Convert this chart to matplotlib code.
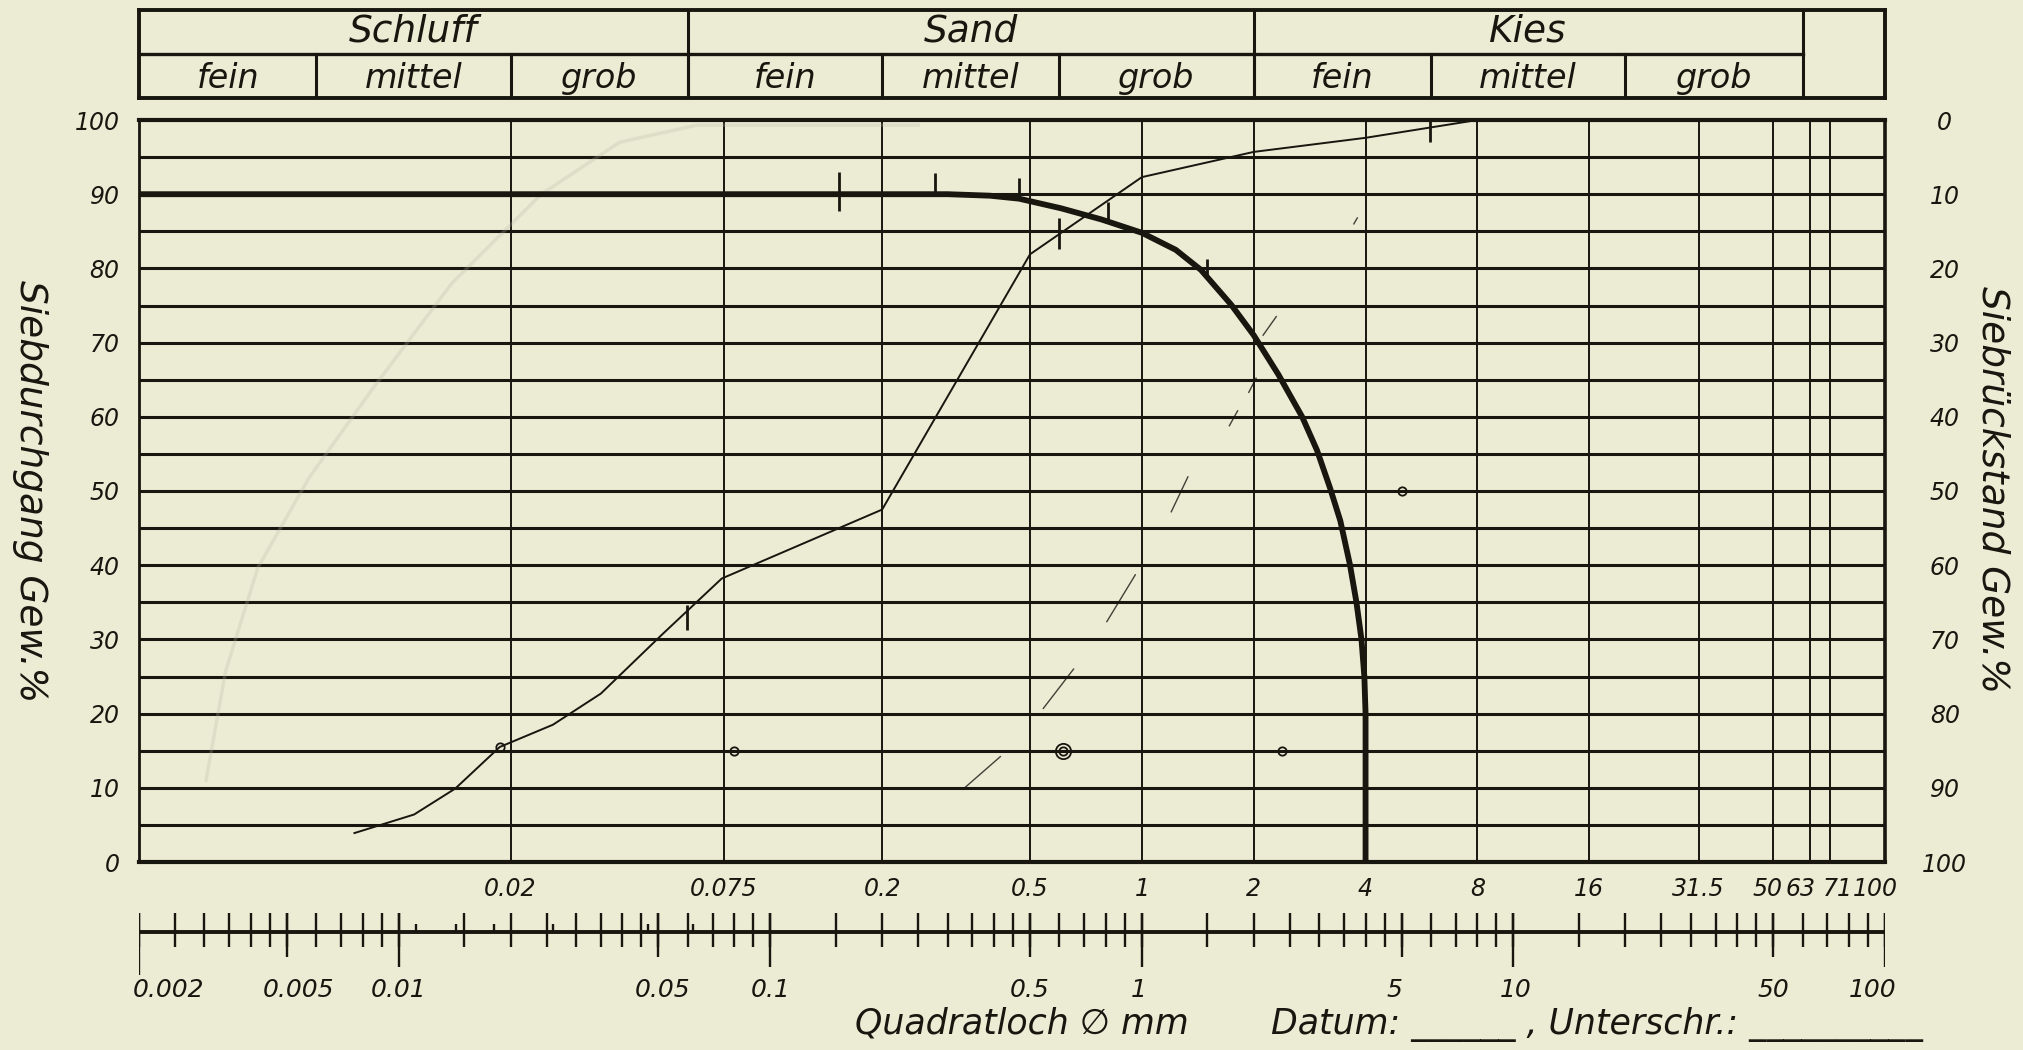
import matplotlib.pyplot as plt
from matplotlib.ticker import NullLocator

INK = '#17160f'
PAPER = '#ecebd4'
plt.rcParams['font.family'] = ['DejaVu Sans']
plt.rcParams['font.style'] = 'italic'

# grain size curve (Siebdurchgang in % over Korngroesse in mm)
grain_mm = [0.0076, 0.011, 0.0142, 0.0187, 0.026, 0.035, 0.051, 0.074, 0.2, 0.5, 1.0, 2.0, 4.0, 8.0]
passing = [3.9, 6.4, 9.9, 15.5, 18.5, 22.7, 30.6, 38.2, 47.5, 81.9, 92.3, 95.7, 97.6, 100]

# heavy curve
heavy_mm = [0.002, 0.3, 0.39, 0.467, 0.606, 0.778, 1.0, 1.234, 1.442, 1.74, 2.0, 2.33,
            2.70, 2.96, 3.21, 3.42, 3.63, 3.78, 3.9, 3.97, 4.0, 4.0]
heavy_pct = [90, 90, 89.8, 89.4, 88.1, 86.6, 84.8, 82.5, 79.8, 75.1, 71.0, 65.7,
             60.0, 55.5, 50.4, 46.0, 40.1, 35.0, 30.0, 25.0, 20.0, 0]

# faint show-through curve from the back of the sheet
ghost_mm = [0.00303, 0.00342, 0.00418, 0.00574, 0.00857, 0.0139, 0.0242, 0.0393, 0.0633, 0.25]
ghost_pct = [11, 25.7, 39.7, 51.8, 64, 78, 90, 97, 99.3, 99.3]

# short pencil strokes (dashed line)
dash_x0 = [0.33, 0.543, 0.805, 1.2, 1.72, 1.94, 2.12, 3.72]
dash_y0 = [9.8, 20.7, 32.4, 47.2, 58.8, 63.3, 71.0, 86.0]
dash_x1 = [0.416, 0.655, 0.96, 1.33, 1.81, 2.03, 2.30, 3.80]
dash_y1 = [14.2, 26.0, 38.7, 51.9, 60.8, 65.2, 73.5, 86.8]

# hand marks across curves
mark_x = [0.153, 0.277, 0.467, 0.60, 0.81, 1.50, 0.0598, 5.97]
mark_y0 = [87.7, 90.2, 89.6, 82.6, 86.6, 78.9, 31.3, 97.0]
mark_y1 = [93.0, 92.8, 92.2, 86.8, 88.9, 81.2, 34.6, 100.4]

circle_x = [0.0187, 0.0798, 0.614, 2.39, 5.02]
circle_y = [15.5, 15, 15, 15, 50]

# sieve grid lines and their labels
sieve_mm = [0.02, 0.075, 0.2, 0.5, 1, 2, 4, 8, 16, 31.5, 50, 63, 71, 100]
sieve_labels = ['0.02', '0.075', '0.2', '0.5', '1', '2', '4', '8', '16', '31.5', '50', '63', '71', '100']
sieve_label_dx = [0, 0, 0, 0, 0, 0, 0, 0, 0, 0, -6, -10, 8, -10]

pct_lines = [5, 10, 15, 20, 25, 30, 35, 40, 45, 50, 55, 60, 65, 70, 75, 80, 85, 90, 95]
pct_ticks = [0, 10, 20, 30, 40, 50, 60, 70, 80, 90, 100]

# soil classes header
main_classes = ['Schluff', 'Sand', 'Kies']
main_bounds = [0.002, 0.06, 2, 60]
sub_classes = ['fein', 'mittel', 'grob'] * 3
sub_bounds = [0.002, 0.006, 0.02, 0.06, 0.2, 0.6, 2, 6, 20, 60]

# lower mm scale
scale_mantissa = [1, 1.5, 2, 2.5, 3, 3.5, 4, 4.5, 5, 6, 7, 8, 9]
scale_decades = [0.001, 0.01, 0.1, 1, 10]
scale_long = [0.01, 0.1, 1, 10, 100]
scale_mid = [0.005, 0.05, 0.5, 5, 50]
scale_small = [0.0111, 0.0143, 0.018, 0.026, 0.0468, 0.062]
scale_labels_x = [0.002, 0.005, 0.01, 0.05, 0.1, 0.5, 1, 5, 10, 50, 100]
scale_labels = ['0.002', '0.005', '0.01', '0.05', '0.1', '0.5', '1', '5', '10', '50', '100']
scale_label_dx = [30, 12, 0, 4, 0, 0, -3, -7, 2, 0, -12]

W, H = 2024, 1050


def box(l, t, r, b):
    return [l / W, 1 - b / H, (r - l) / W, (b - t) / H]


fig = plt.figure(figsize=(W / 100, H / 100), dpi=100, facecolor=PAPER)

# ---- main chart
ax = fig.add_axes(box(139, 120, 1885, 862))
ax.set_facecolor('none')
ax.set_xscale('log')
ax.set_xlim(0.002, 100)
ax.set_ylim(0, 100)
for y in pct_lines:
    ax.axhline(y, color=INK, lw=2.2, zorder=1)
for x in sieve_mm[:-1]:
    ax.axvline(x, color=INK, lw=1.4, zorder=1)
for side, lw in [('top', 3.0), ('bottom', 3.0), ('left', 2.0), ('right', 2.6)]:
    ax.spines[side].set_linewidth(lw)
    ax.spines[side].set_color(INK)

ax.plot(ghost_mm, ghost_pct, color='#b8b7a6', lw=2.5, alpha=0.25, zorder=2)
ax.plot(grain_mm, passing, color=INK, lw=1.4, zorder=3)
ax.plot(heavy_mm, heavy_pct, color=INK, lw=4.2, solid_capstyle='butt',
        solid_joinstyle='round', zorder=4)
for x0, y0, x1, y1 in zip(dash_x0, dash_y0, dash_x1, dash_y1):
    ax.plot([x0, x1], [y0, y1], color=INK, lw=1.0, alpha=0.8, zorder=3)
ax.vlines(mark_x, mark_y0, mark_y1, color=INK, lw=2.0, zorder=5)
ax.plot(circle_x, circle_y, 'o', ms=6, mfc='none', mec=INK, mew=1.3, zorder=5)
ax.plot(circle_x[2:3], circle_y[2:3], 'o', ms=11, mfc='none', mec=INK, mew=1.3, zorder=5)

ax.xaxis.set_minor_locator(NullLocator())
ax.set_xticks([])
ax.set_yticks(pct_ticks)
ax.tick_params(axis='y', length=0, pad=14, labelsize=17, labelcolor=INK)
for x, lab, dx in zip(sieve_mm, sieve_labels, sieve_label_dx):
    ax.annotate(lab, xy=(x, 0), xycoords=('data', 'axes fraction'),
                xytext=(dx / 1.389, -11), textcoords='offset points',
                ha='center', va='top', fontsize=17, color=INK)

ax_r = ax.twinx()
ax_r.set_ylim(100, 0)
ax_r.set_yticks(pct_ticks)
ax_r.tick_params(axis='y', length=0, pad=43, labelsize=17, labelcolor=INK)
for lab in ax_r.get_yticklabels():
    lab.set_ha('center')
for s in ax_r.spines.values():
    s.set_visible(False)

# ---- header table
hd = fig.add_axes(box(139, 10, 1885, 98))
hd.set_facecolor('none')
hd.set_xscale('log')
hd.set_xlim(0.002, 100)
hd.set_ylim(0, 2)
hd.set_xticks([])
hd.set_yticks([])
hd.xaxis.set_minor_locator(NullLocator())
for s in hd.spines.values():
    s.set_linewidth(2.8)
    s.set_color(INK)
hd.plot([main_bounds[0], main_bounds[-1]], [1, 1], color=INK, lw=2.4)
for x in main_bounds[1:]:
    hd.plot([x, x], [0, 2], color=INK, lw=2.2)
for x in sub_bounds[1:-1]:
    hd.plot([x, x], [0, 1], color=INK, lw=2.2)
for i, name in enumerate(main_classes):
    xc = (main_bounds[i] * main_bounds[i + 1]) ** 0.5
    hd.text(xc, 1.5, name, ha='center', va='center', fontsize=27, color=INK)
for i, name in enumerate(sub_classes):
    xc = (sub_bounds[i] * sub_bounds[i + 1]) ** 0.5
    hd.text(xc, 0.45, name, ha='center', va='center', fontsize=24, color=INK)

# ---- lower mm scale (y in pixel rows)
sc = fig.add_axes(box(139, 895, 1885, 1005))
sc.set_facecolor('none')
sc.set_xscale('log')
sc.set_xlim(0.002, 100)
sc.set_ylim(1005, 895)
sc.axis('off')
sc.plot([0.002, 100], [932, 932], color=INK, lw=2.8)
ticks = [m * d for d in scale_decades for m in scale_mantissa if 0.002 <= m * d <= 100] + [100]
sc.vlines(ticks, 913, 947, color=INK, lw=1.7)
sc.vlines(scale_mid, 913, 957, color=INK, lw=1.7)
sc.vlines(scale_long, 913, 967, color=INK, lw=1.7)
sc.vlines([0.002], 913, 975, color=INK, lw=1.7)
sc.vlines(scale_small, 924, 933, color=INK, lw=1.7)
for x, lab, dx in zip(scale_labels_x, scale_labels, scale_label_dx):
    sc.annotate(lab, xy=(x, 990), xytext=(dx / 1.389, 0), textcoords='offset points',
                ha='center', va='center', fontsize=18, color=INK, annotation_clip=False)

# ---- axis titles
fig.text(1022 / W, 1 - 1024 / H, 'Quadratloch \u2205 mm', ha='center', va='center',
         fontsize=25, color=INK)
fig.text(1271 / W, 1 - 1024 / H, 'Datum: ______ , Unterschr.: __________', ha='left',
         va='center', fontsize=25, color=INK)
fig.text(30 / W, 1 - 491 / H, 'Siebdurchgang Gew.%', rotation=270, ha='center',
         va='center', fontsize=27, color=INK)
fig.text(1993 / W, 1 - 490 / H, 'Siebrückstand Gew.%', rotation=270, ha='center',
         va='center', fontsize=27, color=INK)

fig.savefig('out.png', dpi=100, facecolor=PAPER)
